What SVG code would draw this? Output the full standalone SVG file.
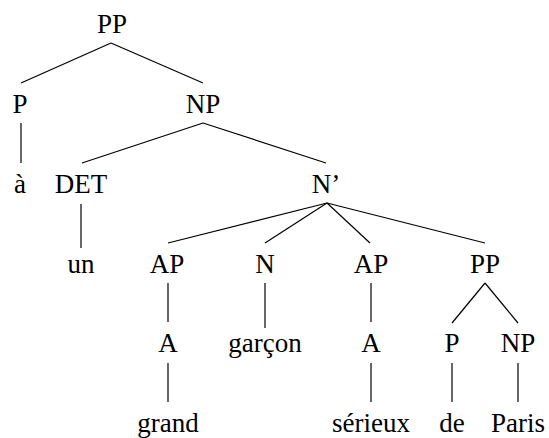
<svg xmlns="http://www.w3.org/2000/svg" width="549" height="438" viewBox="0 0 549 438">
<style>
text { font-family: "Liberation Serif", "DejaVu Serif", "Times New Roman", Times, "Noto Serif", FreeSerif, Tinos, serif; font-size: 27px; fill: #000; text-anchor: middle; }
.edges line { stroke: #000; stroke-width: 1.2; }
</style>
<rect width="549" height="438" fill="#fff"/>
<g class="edges" id="edges">
<line x1="111" y1="43" x2="21" y2="83"/>
<line x1="111" y1="43" x2="203" y2="83"/>
<line x1="21" y1="123" x2="21" y2="163"/>
<line x1="203" y1="123" x2="82" y2="163"/>
<line x1="203" y1="123" x2="326" y2="163"/>
<line x1="81" y1="204" x2="81" y2="248"/>
<line x1="327" y1="203" x2="168" y2="243"/>
<line x1="327" y1="203" x2="265" y2="243"/>
<line x1="327" y1="203" x2="370" y2="243"/>
<line x1="327" y1="203" x2="485" y2="243"/>
<line x1="168" y1="283" x2="168" y2="322"/>
<line x1="265" y1="283" x2="265" y2="328"/>
<line x1="371" y1="283" x2="371" y2="322"/>
<line x1="485" y1="283" x2="452" y2="323"/>
<line x1="485" y1="283" x2="518" y2="323"/>
<line x1="168" y1="363" x2="168" y2="402"/>
<line x1="371" y1="363" x2="371" y2="402"/>
<line x1="452" y1="363" x2="452" y2="402"/>
<line x1="518" y1="363" x2="518" y2="402"/>
</g>
<g id="n-pp"><text x="112" y="33">PP</text></g>
<g id="n-p"><text x="20" y="113">P</text></g>
<g id="n-np"><text x="203" y="113">NP</text></g>
<g id="n-a-grave"><text x="20" y="193">à</text></g>
<g id="n-det"><text x="81" y="193">DET</text></g>
<g id="n-nbar"><text x="326" y="193">N’</text></g>
<g id="n-un"><text x="81" y="273">un</text></g>
<g id="n-ap1"><text x="167" y="273">AP</text></g>
<g id="n-n"><text x="265" y="273">N</text></g>
<g id="n-ap2"><text x="371" y="273">AP</text></g>
<g id="n-pp2"><text x="485" y="273">PP</text></g>
<g id="n-a1"><text x="168" y="352">A</text></g>
<g id="n-garcon"><text x="265" y="352">garçon</text></g>
<g id="n-a2"><text x="371" y="352">A</text></g>
<g id="n-p2"><text x="452" y="352">P</text></g>
<g id="n-np2"><text x="518" y="352">NP</text></g>
<g id="n-grand"><text x="168" y="432">grand</text></g>
<g id="n-serieux"><text x="371" y="432">sérieux</text></g>
<g id="n-de"><text x="452" y="432">de</text></g>
<g id="n-paris"><text x="518" y="432">Paris</text></g>
</svg>
